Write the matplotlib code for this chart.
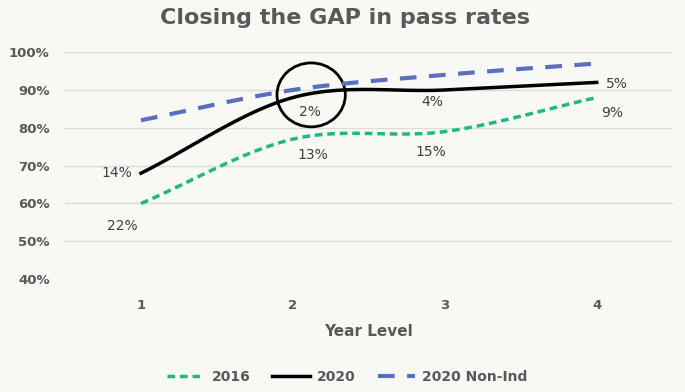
import numpy as np
import matplotlib.pyplot as plt
from matplotlib.patches import Ellipse

years = [1, 2, 3, 4]
rate_2016 = [60, 77, 79, 88]
rate_2020 = [68, 88, 90, 92]
rate_nonind = [82, 90, 94, 97]
gap_2016 = ['22%', '13%', '15%', '9%']
gap_2020 = ['14%', '2%', '4%', '5%']

GREY = '#595959'
BG = '#f8f8f4'
FONT = 'DejaVu Sans'


def smooth(x, y, n=40):  # Catmull-Rom curve through the points, like Excel's smoothed line
    x = np.asarray(x, float)
    y = np.asarray(y, float)
    px = np.concatenate([[2 * x[0] - x[1]], x, [2 * x[-1] - x[-2]]])
    py = np.concatenate([[2 * y[0] - y[1]], y, [2 * y[-1] - y[-2]]])
    xs, ys = [], []
    t = np.linspace(0, 1, n)
    for i in range(1, len(px) - 2):
        for p, out in ((px, xs), (py, ys)):
            p0, p1, p2, p3 = p[i - 1:i + 3]
            out.extend(0.5 * ((2 * p1) + (-p0 + p2) * t
                              + (2 * p0 - 5 * p1 + 4 * p2 - p3) * t ** 2
                              + (-p0 + 3 * p1 - 3 * p2 + p3) * t ** 3))
    return np.array(xs), np.array(ys)


fig = plt.figure(figsize=(6.85, 3.92), dpi=100, facecolor=BG)
ax = fig.add_axes([0.095, 0.288, 0.887, 0.579], facecolor=BG)

x, y = smooth(years, rate_2016)
ax.plot(x, y, color='#1fb97a', lw=2.5, dashes=(2.2, 1.4), label='2016')
x, y = smooth(years, rate_2020)
ax.plot(x, y, color='black', lw=2.5, label='2020')
x, y = smooth(years, rate_nonind)
ax.plot(x, y, color='#5b6fc0', lw=3, dashes=(4, 3), label='2020 Non-Ind')

ax.set_xlim(0.5, 4.5)
ax.set_ylim(40, 100)
ax.set_yticks(range(40, 101, 10))
ax.set_yticklabels([f'{v}%' for v in range(40, 101, 10)])
ax.set_xticks(years)
ax.grid(axis='y', color='#dcdcdc', lw=1)
ax.set_axisbelow(True)
for s in ax.spines.values():
    s.set_visible(False)
ax.tick_params(length=0, labelcolor=GREY, pad=14)
ax.tick_params(axis='y', pad=11)
for lab in ax.get_xticklabels() + ax.get_yticklabels():
    lab.set_fontweight('bold')
    lab.set_fontsize(9.5)
    lab.set_family(FONT)
ax.set_xlabel('Year Level', fontsize=11, fontweight='bold', color=GREY,
              family=FONT, labelpad=9)

# gap labels, placed beside each point
lab_kw = dict(fontsize=10, color='#404040', ha='center', va='center')
off_2020 = [(-0.16, 0), (0.11, -3.8), (-0.08, -3.2), (0.13, -0.3)]
for xi, yi, t, (dx, dy) in zip(years, rate_2020, gap_2020, off_2020):
    ax.text(xi + dx, yi + dy, t, **lab_kw)
off_2016 = [(-0.12, -6.0), (0.13, -4.2), (-0.09, -5.4), (0.1, -4.1)]
for xi, yi, t, (dx, dy) in zip(years, rate_2016, gap_2016, off_2016):
    ax.text(xi + dx, yi + dy, t, **lab_kw)

ax.add_patch(Ellipse((2.12, 88.7), 0.45, 16.9, fill=False, ec='black', lw=2))

fig.text(0.503, 0.953, 'Closing the GAP in pass rates', ha='center', va='center',
         fontsize=16, fontweight='bold', color=GREY, family=FONT)

leg = fig.legend(loc='center', bbox_to_anchor=(0.507, 0.038), ncol=3, frameon=False,
                 handlelength=2.7, columnspacing=1.6, handletextpad=0.5,
                 prop=dict(family=FONT, weight='bold', size=10))
for t in leg.get_texts():
    t.set_color(GREY)

fig.savefig('out.png', dpi=100, facecolor=BG)
